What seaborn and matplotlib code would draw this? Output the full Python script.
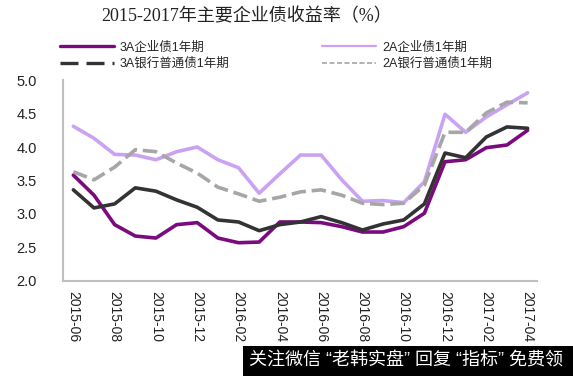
import numpy as np
import matplotlib
matplotlib.use('Agg')
import matplotlib.pyplot as plt
from matplotlib.lines import Line2D
from matplotlib.patches import Rectangle
import pandas as pd
import seaborn as sns

months = ['2015-06', '2015-07', '2015-08', '2015-09', '2015-10', '2015-11', '2015-12',
          '2016-01', '2016-02', '2016-03', '2016-04', '2016-05', '2016-06', '2016-07',
          '2016-08', '2016-09', '2016-10', '2016-11', '2016-12', '2017-01', '2017-02',
          '2017-03', '2017-04']

aaa_corp = [3.58, 3.28, 2.84, 2.67, 2.64, 2.84, 2.87, 2.64, 2.57, 2.58, 2.88, 2.88,
            2.87, 2.81, 2.73, 2.73, 2.81, 3.01, 3.78, 3.81, 3.99, 4.03, 4.25]
aa_corp = [4.31, 4.13, 3.89, 3.88, 3.81, 3.93, 4.00, 3.81, 3.69, 3.31, 3.60, 3.88,
           3.88, 3.51, 3.19, 3.20, 3.17, 3.48, 4.49, 4.22, 4.45, 4.63, 4.81]
aaa_bank = [3.36, 3.09, 3.15, 3.39, 3.34, 3.21, 3.10, 2.91, 2.88, 2.75, 2.84, 2.88,
            2.96, 2.87, 2.76, 2.85, 2.91, 3.15, 3.91, 3.84, 4.15, 4.30, 4.28]
aa_bank = [3.63, 3.51, 3.70, 3.96, 3.93, 3.76, 3.61, 3.40, 3.30, 3.19, 3.25, 3.33,
           3.36, 3.28, 3.16, 3.14, 3.16, 3.43, 4.22, 4.22, 4.51, 4.67, 4.66]

names = ['3A企业债1年期', '2A企业债1年期', '3A银行普通债1年期', '2A银行普通债1年期']
colors = ['#7B0A7E', '#C9A3F2', '#333333', '#A6A6A6']

sns.set_style('white')
plt.rcParams['font.family'] = ['Liberation Sans', 'Noto Sans CJK SC', 'DejaVu Sans']

df = pd.DataFrame({'month': months * 4,
                   'rate': aaa_corp + aa_corp + aaa_bank + aa_bank,
                   'series': np.repeat(names, len(months))})

fig = plt.figure(figsize=(5.73, 3.76), dpi=100)
ax = fig.add_axes([0.110, 0.253, 0.827, 0.534])

for name, col in zip(names, colors):
    sub = df[df['series'] == name]
    ls = (0, (4, 1.6)) if name == '2A银行普通债1年期' else '-'
    sns.lineplot(data=sub, x='month', y='rate', color=col, lw=2.6, ls=ls,
                 sort=False, ax=ax, legend=False)

ax.set_ylim(2.0, 5.0)
ax.set_yticks(np.arange(2.0, 5.01, 0.5))
ax.set_yticklabels(['%.1f' % v for v in np.arange(2.0, 5.01, 0.5)], fontsize=10.5, color='#222222')
ax.set_xlim(-0.5, 22.45)
ax.set_xticks(range(0, len(months), 2))
ax.set_xticklabels(months[::2], rotation=-90, fontsize=10, color='#222222')
ax.tick_params(axis='y', length=0, pad=19)
ax.tick_params(axis='x', length=0, pad=7)
ax.set_xlabel('')
ax.set_ylabel('')
for s in ['top', 'right']:
    ax.spines[s].set_visible(False)
for s in ['left', 'bottom']:
    ax.spines[s].set_color('#BFBFBF')
    ax.spines[s].set_linewidth(1.5)

handles = [Line2D([], [], color=colors[0], lw=2.4),
           Line2D([], [], color=colors[2], lw=2.4, ls=(0, (5.4, 2.4))),
           Line2D([], [], color=colors[1], lw=1.6),
           Line2D([], [], color=colors[3], lw=1.2, ls=(0, (3, 1.5)))]
labels = [names[0], names[2], names[1], names[3]]
fig.legend(handles, labels, ncol=2, loc='upper left', bbox_to_anchor=(0.085, 0.92),
           frameon=False, fontsize=9, handlelength=4.3, handletextpad=0.5,
           columnspacing=7.4, labelspacing=0.35)

fig.text(0.43, 0.955, '2015-2017年主要企业债收益率（%）', ha='center', va='center',
         fontsize=13, color='#222222', family=['Liberation Serif', 'Noto Sans CJK SC'])

# watermark strip at the bottom right
fig.patches.append(Rectangle((0.424, 0.0), 0.576, 0.08, transform=fig.transFigure,
                             fc='black', ec='none', zorder=5))
fig.text(0.709, 0.04, '关注微信 “老韩实盘” 回复 “指标” 免费领', ha='center', va='center',
         fontsize=13, color='white', zorder=6)

fig.savefig('out.png', dpi=100)
